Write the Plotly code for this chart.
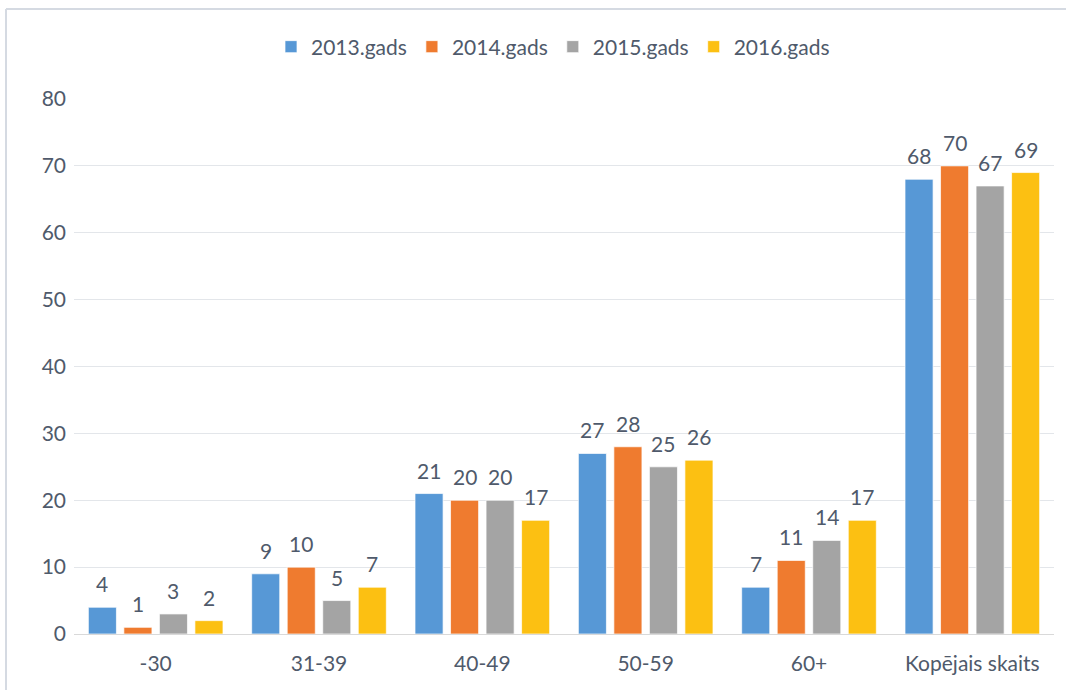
import plotly.graph_objects as go

categories = ["-30", "31-39", "40-49", "50-59", "60+", "Kopējais skaits"]
series_names = ["2013.gads", "2014.gads", "2015.gads", "2016.gads"]
v2013 = [4, 9, 21, 27, 7, 68]
v2014 = [1, 10, 20, 28, 11, 70]
v2015 = [3, 5, 20, 25, 14, 67]
v2016 = [2, 7, 17, 26, 17, 69]
y_ticks = [0, 10, 20, 30, 40, 50, 60, 70, 80]

colors = ["#5798d6", "#ef7b2f", "#a4a4a4", "#fcc012"]
text_color = "#4f5a6b"
font_family = "Lato, Open Sans, sans-serif"
fs = 21

fig = go.Figure()
for name, vals, col in zip(series_names, [v2013, v2014, v2015, v2016], colors):
    fig.add_trace(go.Bar(
        name=name, x=categories, y=vals,
        marker=dict(color=col, line=dict(color="rgba(255,255,255,0.7)", width=1)),
        cliponaxis=False,
    ))

W, H = 1066, 690
ml, mr, mt, mb = 74, 12, 99, 56
pw, ph = W - ml - mr, H - mt - mb

def px(x):
    return (x - ml) / pw

def py(y):
    return (H - mb - y) / ph

bargap, bargroupgap = 0.13, 0.21
# data labels placed on the category axis (by category index), shifted to each bar of the group
pitch = pw / len(categories) * (1 - bargap) / 4
annotations = []
for i, vals in enumerate([v2013, v2014, v2015, v2016]):
    for ci, v in enumerate(vals):
        annotations.append(dict(
            x=ci, y=v, xref="x", yref="y", text=str(v), showarrow=False,
            yanchor="bottom", xanchor="center", yshift=9,
            xshift=(i - 1.5) * pitch,
            font=dict(size=fs, color=text_color, family=font_family),
        ))

fig.update_layout(
    width=W, height=H,
    margin=dict(l=ml, r=mr, t=mt, b=mb, autoexpand=False),
    paper_bgcolor="white", plot_bgcolor="white",
    barmode="group", bargap=bargap, bargroupgap=bargroupgap,
    font=dict(family=font_family, color=text_color, size=fs),
    legend=dict(orientation="h", x=px(553), xanchor="center", y=py(47), yanchor="middle",
                font=dict(size=fs, color=text_color), itemwidth=30,
                traceorder="normal"),
    xaxis=dict(type="category", range=[-0.5, len(categories) - 0.5], showgrid=False,
               showline=True, linecolor="#d9d9d9", linewidth=1,
               ticks="", ticklabelstandoff=11, tickfont=dict(size=fs, color=text_color)),
    yaxis=dict(range=[0, 80], tickvals=y_ticks, showgrid=True, gridcolor="#e3e6ea",
               gridwidth=1, zeroline=False, showline=False, ticks="",
               ticklabelstandoff=7, tickfont=dict(size=fs, color=text_color)),
    annotations=annotations,
    shapes=[
        dict(type="line", xref="paper", yref="paper", x0=px(6), x1=px(1066),
             y0=py(9), y1=py(9), line=dict(color="#d5dae2", width=2)),
        dict(type="line", xref="paper", yref="paper", x0=px(6), x1=px(6),
             y0=py(9), y1=py(690), line=dict(color="#d5dae2", width=2)),
    ],
)

fig.write_html("out.html", config={"displayModeBar": False},
               post_script="document.body.style.margin='0';")
